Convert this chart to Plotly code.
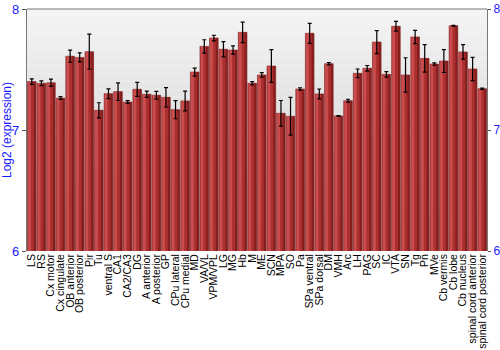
import plotly.graph_objects as go

regions = ["LS", "RS", "Cx motor", "Cx cingulate", "OB anterior", "OB posterior", "Pir", "Tu",
           "ventral S", "CA1", "CA2/CA3", "DG", "A anterior", "A posterior", "GP", "CPu lateral",
           "CPu medial", "MD", "VA/VL", "VPM/VPL", "LG", "MG", "Hb", "M", "ME", "SCN", "MPA", "SO",
           "Pa", "SPa ventral", "SPa dorsal", "DM", "VMH", "Arc", "LH", "PAG", "SC", "IC", "VTA",
           "SN", "Tg", "Pn", "MVe", "Cb vermis", "Cb lobe", "Cb nucleus", "spinal cord anterior",
           "spinal cord posterior"]
expression = [7.40, 7.386, 7.39, 7.264, 7.61, 7.60, 7.647, 7.163,
              7.30, 7.317, 7.231, 7.336, 7.295, 7.287, 7.27, 7.168,
              7.24, 7.479, 7.691, 7.76, 7.667, 7.661, 7.807, 7.386, 7.455, 7.529, 7.138, 7.113,
              7.339, 7.799, 7.298, 7.548, 7.116, 7.242, 7.468, 7.51, 7.727, 7.46, 7.857,
              7.455, 7.769, 7.592, 7.545, 7.570, 7.862, 7.645, 7.504, 7.341]
error = [0.023, 0.02, 0.03, 0.011, 0.05, 0.037, 0.145, 0.062,
         0.04, 0.073, 0.011, 0.058, 0.026, 0.032, 0.08, 0.075,
         0.082, 0.033, 0.055, 0.023, 0.063, 0.034, 0.085, 0.014, 0.019, 0.136, 0.106, 0.156,
         0.01, 0.083, 0.041, 0.01, 0.004, 0.012, 0.036, 0.023, 0.095, 0.023, 0.04,
         0.142, 0.055, 0.113, 0.01, 0.095, 0.003, 0.06, 0.096, 0.006]
y_ticks = [6, 7, 8]

blue = "#1a1aff"
fig = go.Figure()
# base bar
fig.add_trace(go.Bar(
    x=regions, y=expression, width=0.9, offset=-0.45,
    marker=dict(color="#ad3030", line=dict(color="#7a1c1c", width=0.6)),
    showlegend=False, hoverinfo="skip"))
# shading overlays (lighter left, darker right) to imitate the gradient fill
fig.add_trace(go.Bar(
    x=regions, y=expression, width=0.3, offset=-0.4,
    marker=dict(color="rgba(225,100,100,0.55)", line=dict(width=0)),
    showlegend=False, hoverinfo="skip"))
fig.add_trace(go.Bar(
    x=regions, y=expression, width=0.22, offset=0.2,
    marker=dict(color="rgba(90,10,10,0.45)", line=dict(width=0)),
    showlegend=False, hoverinfo="skip"))
# error bars on top
fig.add_trace(go.Bar(
    x=regions, y=expression, width=0.9, offset=-0.45,
    marker=dict(color="rgba(0,0,0,0)", line=dict(width=0)),
    error_y=dict(type="data", array=error, color="black", thickness=1.2, width=2),
    showlegend=False, hoverinfo="skip"))
fig.add_trace(go.Scatter(x=[regions[0]], y=[7], yaxis="y2", mode="markers",
                         marker=dict(opacity=0), showlegend=False, hoverinfo="skip"))

# background gradient
shapes = []
n = 30
for i in range(n):
    t = i / n
    c = int(244 - t * (244 - 200))
    shapes.append(dict(type="rect", xref="x domain", yref="y domain", x0=0, x1=1,
                       y0=1 - (i + 1) / n, y1=1 - i / n, fillcolor=f"rgb({c},{c},{c})",
                       line=dict(width=0), layer="below"))
shapes.append(dict(type="line", xref="x domain", yref="y domain", x0=0, x1=1, y0=1, y1=1,
                   line=dict(color="#777", width=1.2)))

fig.update_layout(
    width=500, height=350,
    margin=dict(l=27, r=13, t=9, b=99),
    paper_bgcolor="white", plot_bgcolor="rgba(0,0,0,0)",
    barmode="overlay",
    shapes=shapes,
    font=dict(family="Liberation Sans, Arial", color="black"),
    xaxis=dict(tickangle=-90, tickfont=dict(size=10.5, color="black"), showgrid=False,
               tickmode="array", tickvals=regions, ticktext=regions,
               range=[-0.5, len(regions) - 0.5], autorange=False,
               showline=False, ticks="", ticklen=0, automargin=False),
    yaxis=dict(range=[6, 8], tickvals=y_ticks, ticks="outside", ticklen=4, tickcolor="#555",
               tickfont=dict(size=13, color=blue), showline=True, linecolor="#777", linewidth=1.2,
               showgrid=True, gridcolor="rgba(255,255,255,0.9)", gridwidth=1, zeroline=False,
               title=dict(text="Log2 (expression)", font=dict(size=12, color=blue), standoff=4),
               automargin=False),
    yaxis2=dict(range=[6, 8], tickvals=y_ticks, overlaying="y", side="right", ticks="outside",
                ticklen=3, tickcolor="#555", tickfont=dict(size=12, color=blue), showline=True,
                linecolor="#777", linewidth=1.2, showgrid=False, zeroline=False, automargin=False),
)
fig.write_html("out.html")
